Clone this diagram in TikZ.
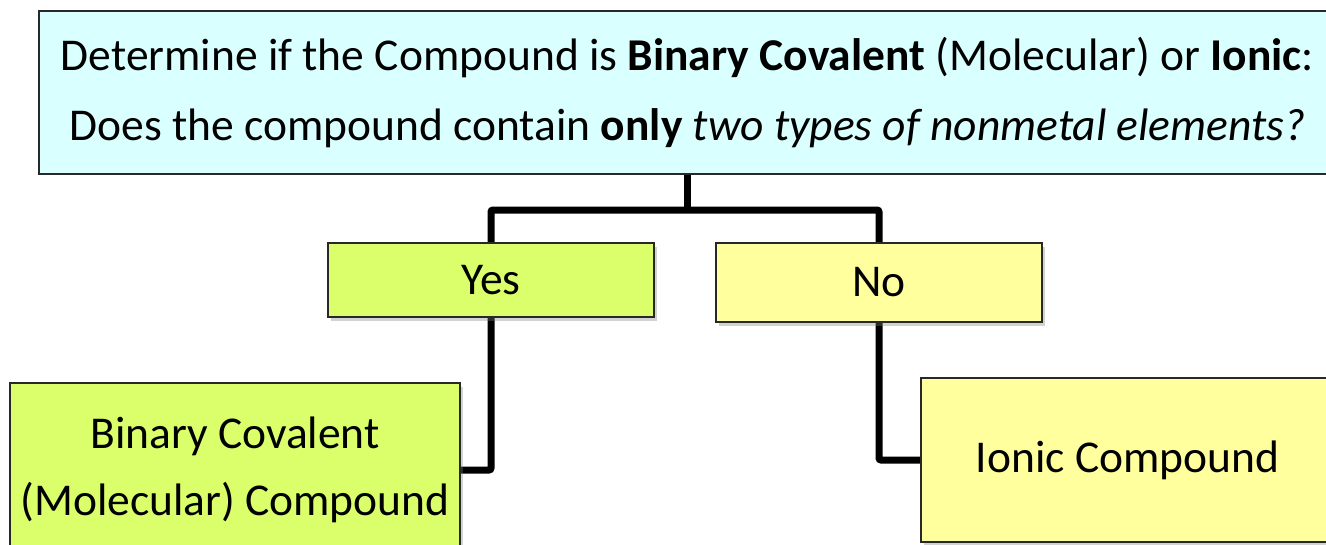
\documentclass[tikz,border=0pt]{standalone}
\usepackage{fontspec}
\setmainfont{Carlito}
\usetikzlibrary{shadows,backgrounds}
\definecolor{topfill}{RGB}{217,255,255}
\definecolor{greenfill}{RGB}{218,255,106}
\definecolor{yellowfill}{RGB}{255,255,158}
\definecolor{edge}{RGB}{40,40,40}
\tikzset{
  boxbase/.style={rectangle, draw=edge, line width=1.8pt, inner sep=0pt, align=center,
    font=\fontsize{45.5}{67}\selectfont},
  topbox/.style={boxbase, fill=topfill},
  greenbox/.style={boxbase, fill=greenfill, drop shadow={shadow xshift=3pt, shadow yshift=-4pt, opacity=0.35}},
  yellowbox/.style={boxbase, fill=yellowfill, drop shadow={shadow xshift=3pt, shadow yshift=-4pt, opacity=0.35}},
  conn/.style={line width=7pt, draw=black, rounded corners=2pt},
}
\begin{document}
\begin{tikzpicture}[x=1pt, y=-1pt]
\useasboundingbox (0,0) rectangle (1326,544);
\clip (0,0) rectangle (1326,544);
\coordinate (bus) at (687.5,210);
\node[topbox, minimum width=1297pt, minimum height=163pt, font=\fontsize{45.5}{70}\selectfont] (top) at (687.5,92.5)
  {Determine if the Compound is \textbf{Binary Covalent} (Molecular) or \textbf{Ionic}:\\
   Does the compound contain \textbf{only} \textit{two types of nonmetal elements?}};
\node[greenbox, minimum width=326pt, minimum height=74pt] (yes) at (491,280) {Yes};
\node[yellowbox, minimum width=326pt, minimum height=79pt] (no) at (879,282.5) {No};
\node[greenbox, minimum width=450pt, minimum height=174pt] (bin) at (235,470)
  {Binary Covalent\\(Molecular) Compound};
\node[yellowbox, minimum width=413pt, minimum height=164pt] (ion) at (1127.5,460) {Ionic Compound};
\begin{scope}[on background layer]
\fill[white] (0,0) rectangle (1326,544);
\draw[conn] (top.south) -- (bus);
\draw[conn] (yes.north) |- (bus) -| (no.north);
\draw[conn] (yes.south) |- (bin.east);
\draw[conn] (no.south) |- (ion.west);
\end{scope}
\end{tikzpicture}
\end{document}
